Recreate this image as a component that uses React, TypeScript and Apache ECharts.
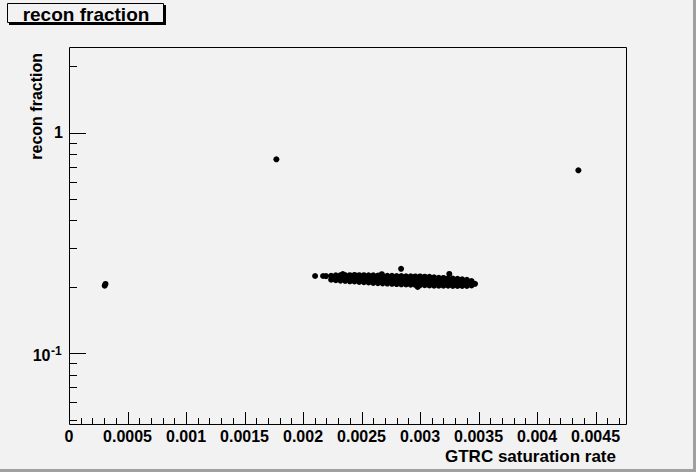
import React, { useEffect, useRef } from "react";
import * as echarts from "echarts";

// ---- axis ranges ----
const X_MIN = 0;
const X_MAX = 0.00476;
const Y_MIN = 0.0478;
const Y_MAX = 2.446;

// ---- ticks & labels ----
const xMajorTicks = [0, 0.0005, 0.001, 0.0015, 0.002, 0.0025, 0.003, 0.0035, 0.004, 0.0045];
const xTickLabels = ["0", "0.0005", "0.001", "0.0015", "0.002", "0.0025", "0.003", "0.0035", "0.004", "0.0045"];
const xMinorTicks = [
  0.0001, 0.0002, 0.0003, 0.0004, 0.0006, 0.0007, 0.0008, 0.0009,
  0.0011, 0.0012, 0.0013, 0.0014, 0.0016, 0.0017, 0.0018, 0.0019,
  0.0021, 0.0022, 0.0023, 0.0024, 0.0026, 0.0027, 0.0028, 0.0029,
  0.0031, 0.0032, 0.0033, 0.0034, 0.0036, 0.0037, 0.0038, 0.0039,
  0.0041, 0.0042, 0.0043, 0.0044, 0.0046, 0.0047,
];
const yMajorTicks = [0.1, 1];
const yLabelBase = ["10", "1"];
const yLabelExp = ["-1", ""];
const yMinorTicks = [0.05, 0.06, 0.07, 0.08, 0.09, 0.2, 0.3, 0.4, 0.5, 0.6, 0.7, 0.8, 0.9, 2];

const titleText = "recon fraction";
const xTitle = "GTRC saturation rate";
const yTitle = "recon fraction";

// ---- data ----
const outlierPoints: [number, number][] = [
  [0.000305, 0.2025],
  [0.000312, 0.2062],
  [0.001772, 0.7575],
  [0.004353, 0.6754],
];

const clusterPoints: [number, number][] = [
  [0.002103, 0.224], [0.002171, 0.224], [0.002197, 0.2238],
  [0.00224, 0.2245], [0.00226, 0.22], [0.00224, 0.2155],
  [0.00228, 0.2255], [0.0023, 0.2205], [0.00228, 0.2145],
  [0.00232, 0.226], [0.00234, 0.2215], [0.00234, 0.2175], [0.00232, 0.2135],
  [0.00234, 0.2285],
  [0.00236, 0.226], [0.00238, 0.2215], [0.00238, 0.2175], [0.00236, 0.213],
  [0.0024, 0.226], [0.00242, 0.221], [0.00242, 0.2165], [0.0024, 0.212],
  [0.00244, 0.2265], [0.00246, 0.221], [0.00246, 0.2165], [0.00244, 0.2115],
  [0.00248, 0.226], [0.0025, 0.2205], [0.0025, 0.2155], [0.00248, 0.2105],
  [0.00252, 0.226], [0.00254, 0.2205], [0.00254, 0.2155], [0.00252, 0.21],
  [0.00256, 0.2255], [0.00258, 0.22], [0.00258, 0.215], [0.00256, 0.2095],
  [0.0026, 0.2255], [0.00262, 0.2195], [0.00262, 0.214], [0.0026, 0.2085],
  [0.00264, 0.225], [0.00266, 0.219], [0.00266, 0.2135], [0.00264, 0.208],
  [0.002673, 0.2284],
  [0.00268, 0.2245], [0.0027, 0.2185], [0.0027, 0.213], [0.00268, 0.2075],
  [0.00272, 0.2245], [0.00274, 0.2185], [0.00274, 0.2125], [0.00272, 0.207],
  [0.00276, 0.2245], [0.00278, 0.2185], [0.00278, 0.2125], [0.00276, 0.2065],
  [0.0028, 0.224], [0.00282, 0.218], [0.00282, 0.212], [0.0028, 0.206],
  [0.002838, 0.2415],
  [0.00284, 0.224], [0.00286, 0.2175], [0.00286, 0.2115], [0.00284, 0.2055],
  [0.00288, 0.2235], [0.0029, 0.2175], [0.0029, 0.211], [0.00288, 0.205],
  [0.00292, 0.2235], [0.00294, 0.217], [0.00294, 0.2105], [0.00292, 0.2045],
  [0.00296, 0.223], [0.00298, 0.2165], [0.00298, 0.21], [0.00296, 0.204],
  [0.00298, 0.2],
  [0.003, 0.223], [0.00302, 0.2165], [0.00302, 0.2095], [0.003, 0.2035],
  [0.00304, 0.2225], [0.00306, 0.216], [0.00306, 0.2095], [0.00304, 0.2035],
  [0.00308, 0.222], [0.0031, 0.2155], [0.0031, 0.209], [0.00308, 0.203],
  [0.00312, 0.221], [0.00314, 0.215], [0.00314, 0.2085], [0.00312, 0.2025],
  [0.00316, 0.22], [0.00318, 0.2145], [0.00318, 0.208], [0.00316, 0.2025],
  [0.0032, 0.2195], [0.00322, 0.214], [0.00322, 0.208], [0.0032, 0.2025],
  [0.00325, 0.229],
  [0.00324, 0.2185], [0.00326, 0.2135], [0.00326, 0.2075], [0.00324, 0.2025],
  [0.00328, 0.218], [0.0033, 0.213], [0.0033, 0.2075], [0.00328, 0.202],
  [0.00332, 0.2175], [0.00334, 0.2125], [0.00334, 0.207], [0.00332, 0.202],
  [0.00336, 0.2165], [0.00338, 0.212], [0.00338, 0.207], [0.00336, 0.202],
  [0.0034, 0.2155], [0.00342, 0.211], [0.00342, 0.2065], [0.0034, 0.202],
  [0.00344, 0.2125], [0.00345, 0.2075], [0.00344, 0.203],
  [0.00347, 0.2065],
];

const FONT = '"Liberation Sans", Arial, Helvetica, sans-serif';
const BG = "#f2f2f2";

function tickSeries(values: number[], dir: "x" | "y", len: number) {
  return {
    type: "custom",
    silent: true,
    clip: false,
    z: 5,
    data: values.map((v) => (dir === "x" ? [v, Y_MIN] : [X_MIN, v])),
    renderItem: (_params: any, api: any) => {
      const p = api.coord([api.value(0), api.value(1)]);
      if (dir === "x") {
        const x = Math.round(p[0]) + 0.5;
        return {
          type: "line",
          shape: { x1: x, y1: p[1], x2: x, y2: p[1] - len },
          style: { stroke: "#000", lineWidth: 1 },
        };
      }
      const y = Math.round(p[1]) + 0.5;
      return {
        type: "line",
        shape: { x1: p[0], y1: y, x2: p[0] + len, y2: y },
        style: { stroke: "#000", lineWidth: 1 },
      };
    },
  };
}

export default function App() {
  const ref = useRef<HTMLDivElement>(null);

  useEffect(() => {
    if (!ref.current) return;
    const chart = echarts.init(ref.current, undefined, { renderer: "svg" });

    const option: any = {
      animation: false,
      backgroundColor: BG,
      grid: { left: 69, top: 47, width: 557, height: 377, containLabel: false },
      xAxis: {
        type: "value",
        min: X_MIN,
        max: X_MAX,
        position: "bottom",
        axisLine: { show: false },
        axisTick: { show: false },
        axisLabel: { show: false },
        splitLine: { show: false },
      },
      yAxis: {
        type: "log",
        logBase: 10,
        min: Y_MIN,
        max: Y_MAX,
        position: "left",
        axisLine: { show: false },
        axisTick: { show: false },
        axisLabel: { show: false },
        splitLine: { show: false },
      },
      series: [
        {
          type: "scatter",
          name: "cluster",
          silent: true,
          symbol: "circle",
          symbolSize: 6,
          itemStyle: { color: "#000", opacity: 1 },
          data: clusterPoints,
          z: 3,
        },
        {
          type: "scatter",
          name: "outliers",
          silent: true,
          symbol: "circle",
          symbolSize: 6,
          itemStyle: { color: "#000", opacity: 1 },
          data: outlierPoints,
          z: 3,
        },
        tickSeries(xMajorTicks, "x", 12),
        tickSeries(xMinorTicks, "x", 6),
        tickSeries(yMajorTicks, "y", 17),
        tickSeries(yMinorTicks, "y", 8),
        {
          type: "custom",
          silent: true,
          clip: false,
          z: 6,
          data: xMajorTicks.map((v) => [v, Y_MIN]),
          renderItem: (params: any, api: any) => {
            const p = api.coord([api.value(0), api.value(1)]);
            return {
              type: "text",
              x: p[0],
              y: p[1] + 4,
              style: {
                text: xTickLabels[params.dataIndex],
                fill: "#000",
                font: `bold 16px ${FONT}`,
                align: "center",
                verticalAlign: "top",
              },
            };
          },
        },
        {
          type: "custom",
          silent: true,
          clip: false,
          z: 6,
          data: yMajorTicks.map((v) => [X_MIN, v]),
          renderItem: (params: any, api: any) => {
            const p = api.coord([api.value(0), api.value(1)]);
            const base = yLabelBase[params.dataIndex];
            const exp = yLabelExp[params.dataIndex];
            if (!exp) {
              return {
                type: "text",
                x: p[0] - 6,
                y: p[1],
                style: {
                  text: base,
                  fill: "#000",
                  font: `bold 16px ${FONT}`,
                  align: "right",
                  verticalAlign: "middle",
                },
              };
            }
            return {
              type: "group",
              children: [
                {
                  type: "text",
                  x: p[0] - 18.5,
                  y: p[1] + 2,
                  style: {
                    text: base,
                    fill: "#000",
                    font: `bold 16px ${FONT}`,
                    align: "right",
                    verticalAlign: "middle",
                  },
                },
                {
                  type: "text",
                  x: p[0] - 18,
                  y: p[1] - 2,
                  style: {
                    text: exp,
                    fill: "#000",
                    font: `bold 12px ${FONT}`,
                    align: "left",
                    verticalAlign: "middle",
                  },
                },
              ],
            };
          },
        },
      ],
      graphic: [
        { type: "rect", shape: { x: 0, y: 469, width: 696, height: 3 }, style: { fill: "#a0a0a0" }, silent: true },
        { type: "rect", shape: { x: 693, y: 0, width: 3, height: 472 }, style: { fill: "#a0a0a0" }, silent: true },
        {
          type: "rect",
          shape: { x: 69.5, y: 47.5, width: 557, height: 377 },
          style: { fill: "none", stroke: "#000", lineWidth: 1 },
          silent: true,
          z: 10,
        },
        { type: "rect", shape: { x: 9, y: 5, width: 157, height: 20 }, style: { fill: "#000" }, silent: true },
        {
          type: "rect",
          shape: { x: 7.5, y: 3.5, width: 156, height: 19 },
          style: { fill: BG, stroke: "#000", lineWidth: 1 },
          silent: true,
        },
        {
          type: "text",
          x: 86,
          y: 14.5,
          silent: true,
          style: { text: titleText, fill: "#000", font: `bold 19px ${FONT}`, align: "center", verticalAlign: "middle" },
        },
        {
          type: "text",
          x: 616,
          y: 456,
          silent: true,
          style: { text: xTitle, fill: "#000", font: `bold 17px ${FONT}`, align: "right", verticalAlign: "middle" },
        },
        {
          type: "text",
          x: 36,
          y: 53,
          rotation: Math.PI / 2,
          silent: true,
          style: { text: yTitle, fill: "#000", font: `bold 16px ${FONT}`, align: "right", verticalAlign: "middle" },
        },
      ],
    };

    chart.setOption(option);
    return () => chart.dispose();
  }, []);

  return (
    <div
      ref={ref}
      style={{ position: "absolute", left: 0, top: 0, width: 696, height: 472 }}
    />
  );
}
